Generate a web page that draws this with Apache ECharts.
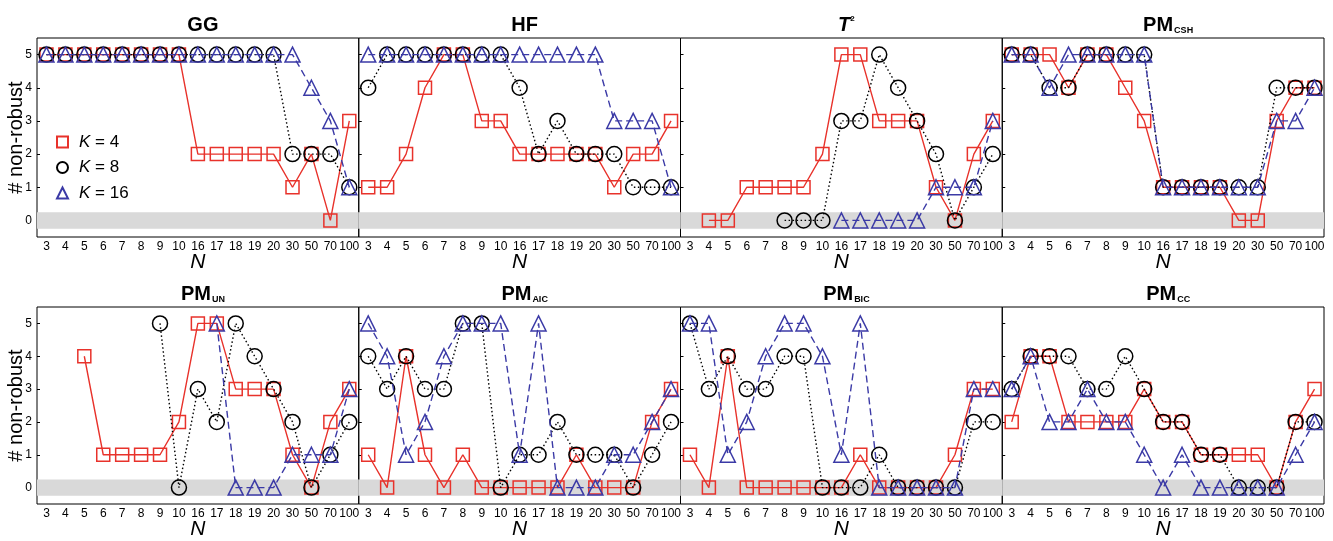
<!DOCTYPE html>
<html>
<head>
<meta charset="utf-8">
<script src="https://cdn.jsdelivr.net/npm/echarts@6/dist/echarts.min.js"></script>
<style>
  html, body { margin: 0; padding: 0; background: #fff; }
  #chart { width: 1333px; height: 541px; }
</style>
</head>
<body>
<div id="chart"></div>
<script>
const categories = ["3", "4", "5", "6", "7", "8", "9", "10", "16", "17", "18", "19", "20", "30", "50", "70", "100"];
const yTicks = [0, 1, 2, 3, 4, 5];
const kNames = ["K = 4", "K = 8", "K = 16"];

// GG
const ggK4 = [5, 5, 5, 5, 5, 5, 5, 5, 2, 2, 2, 2, 2, 1, 2, 0, 3];
const ggK8 = [5, 5, 5, 5, 5, 5, 5, 5, 5, 5, 5, 5, 5, 2, 2, 2, 1];
const ggK16 = [5, 5, 5, 5, 5, 5, 5, 5, 5, 5, 5, 5, 5, 5, 4, 3, 1];
// HF
const hfK4 = [1, 1, 2, 4, 5, 5, 3, 3, 2, 2, 2, 2, 2, 1, 2, 2, 3];
const hfK8 = [4, 5, 5, 5, 5, 5, 5, 5, 4, 2, 3, 2, 2, 2, 1, 1, 1];
const hfK16 = [5, 5, 5, 5, 5, 5, 5, 5, 5, 5, 5, 5, 5, 3, 3, 3, 1];
// T^2
const t2K4 = [null, 0, 0, 1, 1, 1, 1, 2, 5, 5, 3, 3, 3, 1, 0, 2, 3];
const t2K8 = [null, null, null, null, null, 0, 0, 0, 3, 3, 5, 4, 3, 2, 0, 1, 2];
const t2K16 = [null, null, null, null, null, null, null, null, 0, 0, 0, 0, 0, 1, 1, 1, 3];
// PM_CSH
const cshK4 = [5, 5, 5, 4, 5, 5, 4, 3, 1, 1, 1, 1, 0, 0, 3, 4, 4];
const cshK8 = [5, 5, 4, 4, 5, 5, 5, 5, 1, 1, 1, 1, 1, 1, 4, 4, 4];
const cshK16 = [5, 5, 4, 5, 5, 5, 5, 5, 1, 1, 1, 1, 1, 1, 3, 3, 4];
// PM_UN
const unK4 = [null, null, 4, 1, 1, 1, 1, 2, 5, 5, 3, 3, 3, 1, 0, 2, 3];
const unK8 = [null, null, null, null, null, null, 5, 0, 3, 2, 5, 4, 3, 2, 0, 1, 2];
const unK16 = [null, null, null, null, null, null, null, null, null, 5, 0, 0, 0, 1, 1, 1, 3];
// PM_AIC
const aicK4 = [1, 0, 4, 1, 0, 1, 0, 0, 0, 0, 0, 1, 0, 0, 0, 2, 3];
const aicK8 = [4, 3, 4, 3, 3, 5, 5, 0, 1, 1, 2, 1, 1, 1, 0, 1, 2];
const aicK16 = [5, 4, 1, 2, 4, 5, 5, 5, 1, 5, 0, 0, 0, 1, 1, 2, 3];
// PM_BIC
const bicK4 = [1, 0, 4, 0, 0, 0, 0, 0, 0, 1, 0, 0, 0, 0, 1, 3, 3];
const bicK8 = [5, 3, 4, 3, 3, 4, 4, 0, 0, 0, 1, 0, 0, 0, 0, 2, 2];
const bicK16 = [5, 5, 1, 2, 4, 5, 5, 4, 1, 5, 0, 0, 0, 0, 0, 3, 3];
// PM_CC
const ccK4 = [2, 4, 4, 2, 2, 2, 2, 3, 2, 2, 1, 1, 1, 1, 0, 2, 3];
const ccK8 = [3, 4, 4, 4, 3, 3, 4, 3, 2, 2, 1, 1, 0, 0, 0, 2, 2];
const ccK16 = [3, 4, 2, 2, 3, 2, 2, 1, 0, 1, 0, 0, 0, 0, 0, 1, 2];

const panels = [
  { title: "{b|GG}", k: [ggK4, ggK8, ggK16] },
  { title: "{b|HF}", k: [hfK4, hfK8, hfK16] },
  { title: "{it|T}{sup|2}", k: [t2K4, t2K8, t2K16] },
  { title: "{b|PM}{s|CSH}", k: [cshK4, cshK8, cshK16] },
  { title: "{b|PM}{s|UN}", k: [unK4, unK8, unK16] },
  { title: "{b|PM}{s|AIC}", k: [aicK4, aicK8, aicK16] },
  { title: "{b|PM}{s|BIC}", k: [bicK4, bicK8, bicK16] },
  { title: "{b|PM}{s|CC}", k: [ccK4, ccK8, ccK16] },
];

const FONT = "'Liberation Sans', Arial, sans-serif";
const RED = "#e8322b";
const BLUE = "#3b3aa6";
const styles = [
  { color: RED, symbol: "rect", size: 13, line: "solid" },
  { color: "#000", symbol: "circle", size: 15, line: [1.5, 2.5] },
  { color: BLUE, symbol: "triangle", size: 15, line: [7, 4] },
];

const colW = 321.75;
const rowTop = [38, 307];
const rowH = 199;

const grids = [], xAxes = [], yAxes = [], titles = [], series = [];

panels.forEach((p, i) => {
  const col = i % 4, row = Math.floor(i / 4);
  const left = 37 + col * colW;
  grids.push({
    left: left, top: rowTop[row], width: colW, height: rowH,
    show: true, borderColor: "#000", borderWidth: 1, backgroundColor: "transparent",
  });
  titles.push({
    text: p.title,
    left: left + colW / 2,
    top: rowTop[row] - 28,
    textAlign: "center",
    textStyle: {
      fontFamily: FONT,
      rich: {
        b: { fontSize: 20, fontWeight: "bold", color: "#000", fontFamily: FONT },
        it: { fontSize: 20, fontWeight: "bold", fontStyle: "italic", color: "#000", fontFamily: FONT },
        s: { fontSize: 9, fontWeight: "bold", color: "#000", fontFamily: FONT, verticalAlign: "bottom", padding: [10, 0, 0, 1] },
        sup: { fontSize: 8, fontWeight: "bold", color: "#000", fontFamily: FONT, verticalAlign: "top", padding: [0, 0, 8, 0] },
      },
    },
  });
  xAxes.push({
    type: "category", gridIndex: i, data: categories, boundaryGap: true,
    axisLine: { show: false },
    axisTick: { show: true, inside: true, alignWithLabel: true, length: 3, lineStyle: { color: "#000" } },
    axisLabel: { color: "#000", fontSize: 12, margin: 4, fontFamily: FONT, interval: 0 },
    splitLine: { show: false },
    name: "N", nameLocation: "middle", nameGap: 15, nameMoveOverlap: false,
    nameTextStyle: { fontStyle: "italic", fontSize: 21, color: "#000", fontFamily: FONT },
  });
  yAxes.push({
    type: "value", gridIndex: i, min: -0.5, max: 5.5,
    axisLine: { show: false },
    axisTick: { show: true, inside: true, length: 3, customValues: yTicks, lineStyle: { color: "#000" } },
    axisLabel: { show: col === 0, customValues: yTicks, fontSize: 12, color: "#000", margin: 5, fontFamily: FONT },
    splitLine: { show: false },
    name: col === 0 ? "# non-robust" : "", nameLocation: "middle", nameGap: 11, nameMoveOverlap: false,
    nameTextStyle: { fontSize: 20, color: "#000", fontFamily: FONT },
  });
  p.k.forEach((vals, k) => {
    const st = styles[k];
    const s = {
      type: "line", name: kNames[k], xAxisIndex: i, yAxisIndex: i, data: vals,
      symbol: st.symbol, symbolSize: st.size, showAllSymbol: true,
      itemStyle: { color: "rgba(0,0,0,0)", borderColor: st.color, borderWidth: 1.5 },
      lineStyle: { color: st.color, width: 1.4, type: st.line },
      emphasis: { disabled: true },
      animation: false,
      z: 3 + k,
    };
    if (k === 0) {
      s.markArea = {
        silent: true,
        itemStyle: { color: "#d9d9d9" },
        data: [[{ yAxis: -0.25 }, { yAxis: 0.25 }]],
      };
    }
    series.push(s);
  });
});

const chart = echarts.init(document.getElementById("chart"));
chart.setOption({
  animation: false,
  title: titles,
  grid: grids,
  xAxis: xAxes,
  yAxis: yAxes,
  legend: {
    orient: "vertical",
    left: 51, top: 128,
    itemWidth: 11, itemHeight: 11, itemGap: 7.5,
    selectedMode: false,
    data: [
      { name: "K = 4", icon: "rect" },
      { name: "K = 8", icon: "circle" },
      { name: "K = 16", icon: "triangle" },
    ],
    formatter: (name) => "{g|}" + name.replace("K", "{i|K}"),
    textStyle: {
      fontSize: 17, lineHeight: 18, color: "#000", fontFamily: FONT,
      rich: {
        g: { width: 6 },
        i: { fontSize: 17, fontStyle: "italic", color: "#000", fontFamily: FONT },
      },
    },
  },
  series: series,
});
</script>
</body>
</html>
